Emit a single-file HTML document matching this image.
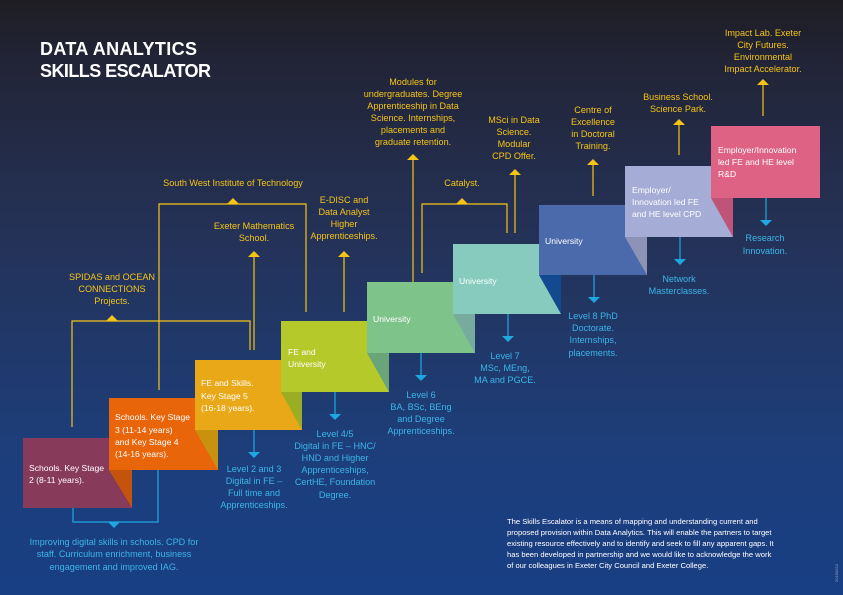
<!DOCTYPE html>
<html><head><meta charset="utf-8"><style>
html,body{margin:0;padding:0;width:843px;height:595px;overflow:hidden}
svg{display:block}
text{font-family:"Liberation Sans",sans-serif}
.y{fill:#f6c417;font-size:9.1px;text-anchor:middle}
.b{fill:#3bb6e8;font-size:9.1px;text-anchor:middle}
.w{fill:#fff;font-size:8.6px}
</style></head><body>
<svg width="843" height="595" viewBox="0 0 843 595" xmlns="http://www.w3.org/2000/svg">
<defs><linearGradient id="bg" x1="0" y1="0" x2="0" y2="1">
<stop offset="0" stop-color="#1d1d22"/><stop offset="0.1" stop-color="#222436"/><stop offset="0.4" stop-color="#243258"/><stop offset="0.75" stop-color="#1d3e7a"/><stop offset="1" stop-color="#183f84"/></linearGradient></defs>
<rect width="843" height="595" fill="url(#bg)"/>
<text x="40" y="55" fill="#fff" font-size="18" font-weight="bold" textLength="157">DATA ANALYTICS</text>
<text x="40" y="77" fill="#fff" font-size="18" font-weight="bold" textLength="171">SKILLS ESCALATOR</text>

<g stroke="#f6c417" stroke-width="1.2" fill="none">
<path d="M72,427V321H250V350"/>
<path d="M159,390V204H306V312"/>
<path d="M254,350V256"/>
<path d="M344,312V256"/>
<path d="M413,282V159"/>
<path d="M422,273V204H507V233"/>
<path d="M515,233V174"/>
<path d="M593,196V164"/>
<path d="M679,155V124"/>
<path d="M763,116V84"/>
</g>
<g fill="#f6c417">
<path d="M106,321l6,-6l6,6z"/><path d="M227,204l6,-6l6,6z"/><path d="M456,204l6,-6l6,6z"/>
<path d="M248,257l6,-6l6,6z"/><path d="M338,257l6,-6l6,6z"/><path d="M407,160l6,-6l6,6z"/>
<path d="M509,175l6,-6l6,6z"/><path d="M587,165l6,-6l6,6z"/><path d="M673,125l6,-6l6,6z"/><path d="M757,85l6,-6l6,6z"/>
</g>

<g stroke="#1fa8df" stroke-width="1.2" fill="none">
<path d="M73,508V522H158V470"/>
<path d="M254,430V452"/><path d="M335,392V414"/><path d="M421,353V375"/><path d="M508,314V336"/>
<path d="M594,275V297"/><path d="M680,237V259"/><path d="M766,198V220"/>
</g>
<g fill="#1fa8df">
<path d="M108,522h12l-6,6z"/>
<path d="M248,452h12l-6,6z"/><path d="M329,414h12l-6,6z"/><path d="M415,375h12l-6,6z"/><path d="M502,336h12l-6,6z"/>
<path d="M588,297h12l-6,6z"/><path d="M674,259h12l-6,6z"/><path d="M760,220h12l-6,6z"/>
</g>

<rect x="23" y="438" width="109" height="70" fill="#873a5a"/>
<path d="M109,470H132V508z" fill="#c4540c"/>
<rect x="109" y="398" width="109" height="72" fill="#e8650a"/>
<path d="M195,430H218V470z" fill="#c8920f"/>
<rect x="195" y="360" width="107" height="70" fill="#e8a817"/>
<path d="M281,392H302V430z" fill="#9aad23"/>
<rect x="281" y="321" width="108" height="71" fill="#b5c92b"/>
<path d="M367,353H389V392z" fill="#6aa57a"/>
<rect x="367" y="282" width="108" height="71" fill="#7dc38a"/>
<path d="M453,314H475V353z" fill="#76ab9e"/>
<rect x="453" y="244" width="108" height="70" fill="#86cbbd"/>
<path d="M539,275H561V314z" fill="#134a8f"/>
<rect x="539" y="205" width="108" height="70" fill="#4a6aab"/>
<path d="M625,237H647V275z" fill="#8c93b6"/>
<rect x="625" y="166" width="108" height="71" fill="#a5acd6"/>
<path d="M711,198H733V237z" fill="#c05378"/>
<rect x="711" y="126" width="109" height="72" fill="#de6284"/>

<text class="w"><tspan x="29" y="471">Schools. Key Stage</tspan><tspan x="29" y="483">2 (8-11 years).</tspan></text>
<text class="w"><tspan x="115" y="420">Schools. Key Stage</tspan><tspan x="115" y="433">3 (11-14 years)</tspan><tspan x="115" y="445">and Key Stage 4</tspan><tspan x="115" y="457">(14-16 years).</tspan></text>
<text class="w"><tspan x="201" y="386">FE and Skills.</tspan><tspan x="201" y="399">Key Stage 5</tspan><tspan x="201" y="411">(16-18 years).</tspan></text>
<text class="w"><tspan x="288" y="355">FE and</tspan><tspan x="288" y="367">University</tspan></text>
<text class="w"><tspan x="373" y="322">University</tspan></text>
<text class="w"><tspan x="459" y="284">University</tspan></text>
<text class="w"><tspan x="545" y="244">University</tspan></text>
<text class="w"><tspan x="632" y="193">Employer/</tspan><tspan x="632" y="205">Innovation led FE</tspan><tspan x="632" y="217">and HE level CPD</tspan></text>
<text class="w"><tspan x="718" y="153">Employer/Innovation</tspan><tspan x="718" y="165">led FE and HE level</tspan><tspan x="718" y="177">R&amp;D</tspan></text>

<text class="y"><tspan x="112" y="280">SPIDAS and OCEAN</tspan><tspan x="112" y="292">CONNECTIONS</tspan><tspan x="112" y="304">Projects.</tspan></text>
<text class="y"><tspan x="233" y="186">South West Institute of Technology</tspan></text>
<text class="y"><tspan x="254" y="229">Exeter Mathematics</tspan><tspan x="254" y="241">School.</tspan></text>
<text class="y"><tspan x="344" y="203">E-DISC and</tspan><tspan x="344" y="215">Data Analyst</tspan><tspan x="344" y="227">Higher</tspan><tspan x="344" y="239">Apprenticeships.</tspan></text>
<text class="y"><tspan x="413" y="85">Modules for</tspan><tspan x="413" y="97">undergraduates. Degree</tspan><tspan x="413" y="109">Apprenticeship in Data</tspan><tspan x="413" y="121">Science. Internships,</tspan><tspan x="413" y="133">placements and</tspan><tspan x="413" y="145">graduate retention.</tspan></text>
<text class="y"><tspan x="462" y="186">Catalyst.</tspan></text>
<text class="y"><tspan x="514" y="123">MSci in Data</tspan><tspan x="514" y="135">Science.</tspan><tspan x="514" y="147">Modular</tspan><tspan x="514" y="159">CPD Offer.</tspan></text>
<text class="y"><tspan x="593" y="113">Centre of</tspan><tspan x="593" y="125">Excellence</tspan><tspan x="593" y="137">in Doctoral</tspan><tspan x="593" y="149">Training.</tspan></text>
<text class="y"><tspan x="678" y="100">Business School.</tspan><tspan x="678" y="112">Science Park.</tspan></text>
<text class="y"><tspan x="763" y="36">Impact Lab. Exeter</tspan><tspan x="763" y="48">City Futures.</tspan><tspan x="763" y="60">Environmental</tspan><tspan x="763" y="72">Impact Accelerator.</tspan></text>

<text class="b"><tspan x="114" y="545">Improving digital skills in schools. CPD for</tspan><tspan x="114" y="557">staff. Curriculum enrichment, business</tspan><tspan x="114" y="570">engagement and improved IAG.</tspan></text>
<text class="b"><tspan x="254" y="472">Level 2 and 3</tspan><tspan x="254" y="484">Digital in FE –</tspan><tspan x="254" y="496">Full time and</tspan><tspan x="254" y="508">Apprenticeships.</tspan></text>
<text class="b"><tspan x="335" y="437">Level 4/5</tspan><tspan x="335" y="449">Digital in FE – HNC/</tspan><tspan x="335" y="461">HND and Higher</tspan><tspan x="335" y="473">Apprenticeships,</tspan><tspan x="335" y="485">CertHE, Foundation</tspan><tspan x="335" y="498">Degree.</tspan></text>
<text class="b"><tspan x="421" y="398">Level 6</tspan><tspan x="421" y="410">BA, BSc, BEng</tspan><tspan x="421" y="422">and Degree</tspan><tspan x="421" y="434">Apprenticeships.</tspan></text>
<text class="b"><tspan x="505" y="359">Level 7</tspan><tspan x="505" y="371">MSc, MEng,</tspan><tspan x="505" y="383">MA and PGCE.</tspan></text>
<text class="b"><tspan x="593" y="319">Level 8 PhD</tspan><tspan x="593" y="331">Doctorate.</tspan><tspan x="593" y="343">Internships,</tspan><tspan x="593" y="356">placements.</tspan></text>
<text class="b"><tspan x="679" y="282">Network</tspan><tspan x="679" y="294">Masterclasses.</tspan></text>
<text class="b"><tspan x="765" y="241">Research</tspan><tspan x="765" y="254">Innovation.</tspan></text>

<text fill="#fff" font-size="7.6"><tspan x="507" y="524">The Skills Escalator is a means of mapping and understanding current and</tspan><tspan x="507" y="535">proposed provision within Data Analytics. This will enable the partners to target</tspan><tspan x="507" y="546">existing resource effectively and to identify and seek to fill any apparent gaps. It</tspan><tspan x="507" y="557">has been developed in partnership and we would like to acknowledge the work</tspan><tspan x="507" y="568">of our colleagues in Exeter City Council and Exeter College.</tspan></text>
<text x="0" y="0" fill="#8da0c8" font-size="4" transform="translate(838,582) rotate(-90)">20180024</text>
</svg>
</body></html>
